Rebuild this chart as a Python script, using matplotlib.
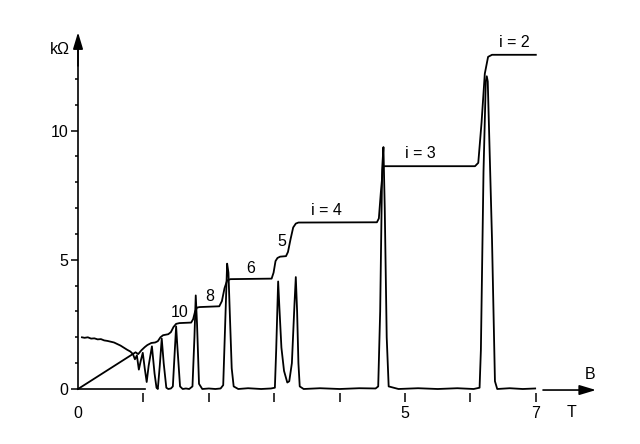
import matplotlib
matplotlib.use('Agg')
import matplotlib.pyplot as plt


# Hall resistance R_xy (kOhm) against field B (T)
b_xy = [0.0, 0.88, 0.92, 0.97, 1.02, 1.06, 1.12, 1.18, 1.22, 1.26, 1.30, 1.38,
        1.42, 1.46, 1.50, 1.55, 1.73, 1.76, 1.79, 1.82, 1.86, 2.16, 2.20, 2.24,
        2.28, 2.33, 2.96, 2.99, 3.02, 3.05, 3.09, 3.18, 3.21, 3.25, 3.29, 3.33,
        3.37, 4.57, 4.60, 4.63, 4.665, 4.69, 6.07, 6.12, 6.17, 6.22, 6.27, 6.33,
        7.0]
r_xy = [0.0, 1.42, 1.35, 1.50, 1.62, 1.70, 1.78, 1.80, 1.85, 2.00, 2.08, 2.12,
        2.20, 2.40, 2.52, 2.55, 2.57, 2.70, 3.00, 3.15, 3.17, 3.20, 3.40, 3.90,
        4.20, 4.25, 4.27, 4.50, 4.95, 5.07, 5.12, 5.14, 5.30, 5.80, 6.25, 6.40,
        6.44, 6.45, 6.60, 7.60, 8.60, 8.62, 8.62, 8.75, 10.3, 12.2, 12.85, 12.93,
        12.93]

# longitudinal resistance R_xx (kOhm)
b_xx = [0.06, 0.10, 0.15, 0.20, 0.25, 0.30, 0.35, 0.40, 0.45, 0.50, 0.55, 0.60,
        0.65, 0.70, 0.75, 0.80, 0.84, 0.87, 0.90, 0.93, 0.96, 0.99, 1.02, 1.05,
        1.08, 1.13, 1.17, 1.20, 1.22, 1.25, 1.28, 1.31, 1.35, 1.38, 1.42, 1.45,
        1.48, 1.50, 1.52, 1.56, 1.60, 1.65, 1.70, 1.75, 1.78, 1.80, 1.82, 1.85,
        1.90, 2.00, 2.10, 2.18, 2.22, 2.25, 2.28, 2.30, 2.32, 2.35, 2.38, 2.45,
        2.60, 2.80, 2.95, 3.01, 3.03, 3.06, 3.08, 3.11, 3.15, 3.20, 3.23, 3.27,
        3.31, 3.33, 3.35, 3.37, 3.39, 3.45, 3.70, 4.00, 4.30, 4.55, 4.59, 4.62,
        4.65, 4.67, 4.69, 4.72, 4.75, 4.90, 5.20, 5.50, 5.80, 6.05, 6.14, 6.16,
        6.20, 6.235, 6.25, 6.265, 6.33, 6.375, 6.41, 6.60, 6.80, 6.99]
r_xx = [2.00, 1.98, 2.00, 1.95, 1.96, 1.92, 1.93, 1.88, 1.86, 1.83, 1.80, 1.74,
        1.68, 1.60, 1.52, 1.45, 1.35, 1.15, 1.30, 0.75, 1.10, 1.40, 0.80, 0.27,
        0.90, 1.65, 0.60, 0.05, 0.00, 0.90, 1.95, 1.00, 0.05, 0.00, 0.02, 0.10,
        1.50, 2.42, 1.60, 0.10, 0.00, 0.02, 0.00, 0.10, 2.00, 3.62, 2.50, 0.20,
        0.00, 0.02, 0.00, 0.02, 0.15, 2.50, 4.85, 4.50, 3.00, 0.80, 0.10, 0.00,
        0.03, 0.00, 0.02, 0.05, 1.50, 4.16, 3.10, 1.60, 0.70, 0.25, 0.30, 1.00,
        3.30, 4.33, 3.00, 1.00, 0.10, 0.00, 0.03, 0.00, 0.03, 0.02, 0.10, 3.00,
        8.50, 9.36, 7.00, 2.00, 0.10, 0.00, 0.03, 0.00, 0.03, 0.00, 0.05, 1.50,
        8.40, 11.9, 12.1, 11.9, 5.80, 0.30, 0.00, 0.03, 0.00, 0.02]

# plateau labels: text, B, R
step_labels = ['10', '8', '6', '5', 'i = 4', 'i = 3', 'i = 2']
step_b = [1.56, 2.01, 2.64, 3.11, 3.80, 5.23, 6.67]
step_r = [2.95, 3.58, 4.68, 5.71, 6.91, 9.11, 13.42]

plt.rcParams['font.family'] = ['Liberation Sans', 'DejaVu Sans']
plt.rcParams['font.size'] = 11.5

fig = plt.figure(figsize=(6.4, 4.44), dpi=100)
ax = fig.add_axes([0, 0, 1, 1])
ax.set_xlim(-1.193, 8.593)
ax.set_ylim(-2.128, 15.05)

ax.plot(b_xy, r_xy, color='black', lw=1.3)
ax.plot(b_xx, r_xx, color='black', lw=1.3)

for txt, b, r in zip(step_labels, step_b, step_r):
    ax.text(b, r, txt, ha='center', va='center')

# axes drawn like the original sketch
for side in ['top', 'right']:
    ax.spines[side].set_visible(False)
ax.spines['left'].set_position(('data', 0))
ax.spines['left'].set_bounds(0, 13.3)
ax.spines['left'].set_linewidth(1.2)
# ticks on B sit a little below the trace
ax.spines['bottom'].set_position(('data', -0.16))
ax.spines['bottom'].set_visible(False)

ax.set_yticks([0, 5, 10])
ax.set_yticks([1, 2, 3, 4, 6, 7, 8, 9, 11, 12], minor=True)
ax.tick_params(axis='y', which='major', direction='out', length=5, width=1.1, pad=2)
ax.tick_params(axis='y', which='minor', direction='out', length=2.5, width=1.1)

ax.set_xticks(range(8))
ax.set_xticklabels(['0', '', '', '', '', '5', '', '7'])
ax.tick_params(axis='x', direction='out', length=6.5, width=1.1, pad=3)
ax.xaxis.get_major_ticks()[0].tick1line.set_visible(False)

# short bit of the B axis and the arrows
ax.plot([0, 1.02], [0, 0], color='black', lw=1.2)
ax.annotate('', xy=(0, 13.8), xytext=(0, 12.5),
            arrowprops=dict(arrowstyle='-|>,head_length=1.0,head_width=0.3',
                            mutation_scale=10, color='black', lw=1.2,
                            shrinkA=0, shrinkB=0))
ax.annotate('', xy=(7.92, -0.04), xytext=(7.11, -0.04),
            arrowprops=dict(arrowstyle='-|>,head_length=1.0,head_width=0.3',
                            mutation_scale=10, color='black', lw=1.2,
                            shrinkA=0, shrinkB=0))
ax.text(-0.12, 13.15, 'kΩ', ha='right', va='center')
ax.text(7.83, 0.55, 'B', ha='center', va='center')
ax.text(7.55, -0.89, 'T', ha='center', va='center')

fig.savefig('out.png', dpi=100)
